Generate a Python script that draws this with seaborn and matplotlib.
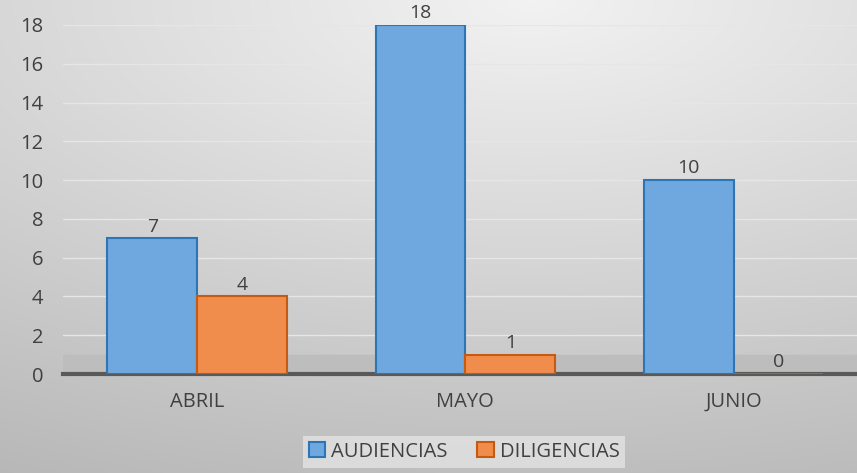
import numpy as np
import pandas as pd
import matplotlib
matplotlib.use('Agg')
import matplotlib.pyplot as plt
import seaborn as sns

# Datos del gráfico
meses = ['ABRIL', 'MAYO', 'JUNIO']
series = ['AUDIENCIAS', 'DILIGENCIAS']
audiencias = [7, 18, 10]
diligencias = [4, 1, 0]
y_ticks = list(range(0, 19, 2))

df = pd.DataFrame({
    'Mes': meses * 2,
    'Serie': [series[0]] * len(meses) + [series[1]] * len(meses),
    'Valor': audiencias + diligencias,
})

colores = ['#6fa8de', '#f08c4c']
bordes = ['#2e75b6', '#c55a11']
texto = '#404040'

sns.set_theme(style='white')
plt.rcParams['font.family'] = ['Open Sans', 'DejaVu Sans']

fig = plt.figure(figsize=(8.57, 4.73), dpi=100)

# Fondo degradado (radial, más claro arriba)
bg = fig.add_axes([0, 0, 1, 1], zorder=-10)
yy, xx = np.mgrid[0:1:300j, 0:1:500j]
r = np.sqrt((xx - 0.62) ** 2 + (yy * 1.2) ** 2)
g = np.clip(0.95 - 0.17 * r, 0, 1)
bg.imshow(np.dstack([g, g, g]), aspect='auto', extent=[0, 1, 0, 1], origin='upper')
bg.axis('off')

ax = fig.add_axes([63 / 857, 99 / 473, (857 - 63) / 857, (374 - 25) / 473])
ax.set_facecolor('none')

sns.barplot(data=df, x='Mes', y='Valor', hue='Serie', palette=colores,
            saturation=1, width=0.67, ax=ax, legend=False, zorder=3)

for cont, borde in zip(ax.containers, bordes):
    for p in cont:
        p.set_edgecolor(borde)
        p.set_linewidth(1.5)
    ax.bar_label(cont, fontsize=14, color=texto, padding=2, clip_on=False)

# "suelo" gris
ax.axhspan(0, 1, color='#bdbdbd', zorder=1)

ax.set_ylim(0, 18)
ax.set_xlim(-0.5, 2.46)
ax.set_yticks(y_ticks)
ax.yaxis.grid(True, color='#e6e6e6', lw=1, zorder=0)
ax.set_axisbelow(True)
ax.set_xlabel('')
ax.set_ylabel('')
for s in ['top', 'right', 'left']:
    ax.spines[s].set_visible(False)
ax.spines['bottom'].set_color('#595959')
ax.spines['bottom'].set_linewidth(3)
ax.tick_params(axis='y', length=0, labelsize=14.5, labelcolor=texto, pad=14)
ax.tick_params(axis='x', length=0, labelsize=14.5, labelcolor=texto, pad=13)

handles = [plt.Rectangle((0, 0), 1, 1, facecolor=c, edgecolor=b, lw=1.5)
           for c, b in zip(colores, bordes)]
fig.legend(handles, series, loc='lower center', bbox_to_anchor=(464 / 857, -0.01),
           ncol=2, frameon=True, facecolor='#e3e3e3', edgecolor='none', fancybox=False,
           fontsize=14.5, handlelength=0.8, handleheight=0.8, handletextpad=0.3,
           columnspacing=1.5, labelcolor=texto, borderpad=0.3)

fig.savefig('out.png', dpi=100)
